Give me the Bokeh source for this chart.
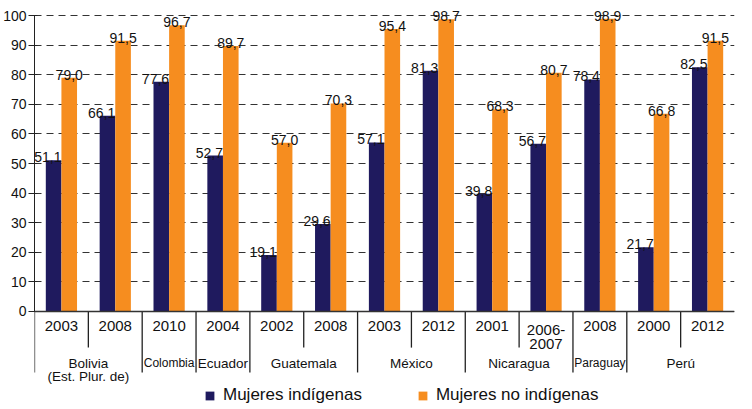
from bokeh.plotting import figure
from bokeh.models import ColumnDataSource, Range1d, FixedTicker, Span, Legend, LegendItem
from bokeh.core.properties import value
from bokeh.embed import file_html
from bokeh.resources import INLINE

# ---- data ----
groups = ["Bolivia\n(Est. Plur. de)", "Bolivia\n(Est. Plur. de)", "Colombia", "Ecuador",
          "Guatemala", "Guatemala", "México", "México", "Nicaragua", "Nicaragua",
          "Paraguay", "Perú", "Perú"]
years = ["2003", "2008", "2010", "2004", "2002", "2008", "2003", "2012", "2001",
         "2006-\n2007", "2008", "2000", "2012"]
indigenas = [51.1, 66.1, 77.6, 52.7, 19.1, 29.6, 57.1, 81.3, 39.8, 56.7, 78.4, 21.7, 82.5]
no_indigenas = [79.0, 91.5, 96.7, 89.7, 57.0, 70.3, 95.4, 98.7, 68.3, 80.7, 98.9, 66.8, 91.5]
y_ticks = list(range(0, 101, 10))
series_names = ["Mujeres indígenas", "Mujeres no indígenas"]

# ---- styles ----
NAVY = "#1F1A5E"
ORANGE = "#F68D1F"
FONT = "Liberation Sans"
narrow_groups = {"Colombia": "12px", "Paraguay": "12px"}
BAR_W = 0.29

n = len(years)
centers = [i + 0.5 for i in range(n)]

def fmt(v):
    return f"{v:.1f}".replace(".", ",")

src = ColumnDataSource(dict(
    xc=centers,
    x1=[c - BAR_W / 2 for c in centers],
    x2=[c + BAR_W / 2 for c in centers],
    ind=indigenas, noind=no_indigenas,
    ind_lbl=[fmt(v) for v in indigenas],
    noind_lbl=[fmt(v) for v in no_indigenas],
    year=years,
))

p = figure(width=736, height=405, output_backend="svg", toolbar_location=None,
           x_range=Range1d(0, n), y_range=Range1d(-31.76, 105.07),
           x_axis_location=None, min_border_left=29, min_border_right=2,
           min_border_top=0, min_border_bottom=0)
p.outline_line_color = None
p.xgrid.visible = False

yax = p.yaxis[0]
yax.ticker = FixedTicker(ticks=y_ticks)
yax.bounds = (0, 100)
yax.minor_tick_line_color = None
yax.major_tick_out = 6
yax.major_tick_in = 3
yax.major_label_standoff = 2
yax.major_label_text_font = FONT
yax.major_label_text_font_size = "14px"
yax.major_label_text_color = "#111111"
yax.axis_line_color = "#222222"
yax.major_tick_line_color = "#222222"

p.ygrid.ticker = FixedTicker(ticks=y_ticks)
p.ygrid.grid_line_color = "#333333"
p.ygrid.grid_line_dash = "7 5"
p.ygrid.grid_line_width = 1

r1 = p.vbar(x="x1", top="ind", bottom=0, width=BAR_W, source=src,
            fill_color=NAVY, line_color=None)
r2 = p.vbar(x="x2", top="noind", bottom=0, width=BAR_W, source=src,
            fill_color=ORANGE, line_color=None)

p.add_layout(Span(location=0, dimension="width", line_color="#333333", line_width=1.5))

# value labels
p.text(x="xc", y="ind", text="ind_lbl", source=src, text_align="right",
       text_baseline="alphabetic", y_offset=-3, text_font=value(FONT),
       text_font_size="14px", text_color="#111111")
p.text(x="x2", y="noind", text="noind_lbl", source=src, text_align="center",
       text_baseline="alphabetic", y_offset=-3, text_font=value(FONT),
       text_font_size="14px", text_color="#111111")

# year labels
p.text(x="xc", y=-3.1, text="year", source=src, text_align="center",
       text_baseline="top", text_font=value(FONT), text_font_size="15px",
       text_color="#111111", text_line_height=0.85)

# separators
sep_x, sep_y = [], []
for i in range(n):
    long_tick = (i == 0) or (groups[i] != groups[i - 1])
    sep_x.append(i)
    sep_y.append(-20.6 if long_tick else -12.2)
p.segment(x0=sep_x, y0=[0] * n, x1=sep_x, y1=sep_y, line_color="#222222", line_width=1.3)

# group labels
g_names, g_x, g_size = [], [], []
i = 0
while i < n:
    j = i
    while j + 1 < n and groups[j + 1] == groups[i]:
        j += 1
    g_names.append(groups[i])
    g_x.append((i + j + 1) / 2)
    g_size.append(narrow_groups.get(groups[i], "13.5px"))
    i = j + 1
gsrc = ColumnDataSource(dict(x=g_x, name=g_names, size=g_size))
p.text(x="x", y=-15.0, text="name", source=gsrc, text_align="center",
       text_baseline="top", text_font=value(FONT), text_font_size="size",
       text_color="#111111", text_line_height=0.9)

legend = Legend(items=[LegendItem(label=series_names[0], renderers=[r1]),
                       LegendItem(label=series_names[1], renderers=[r2])],
                orientation="horizontal", location=(170, 0),
                label_text_font=FONT, label_text_font_size="17px",
                label_text_color="#111111",
                glyph_width=11, glyph_height=11, label_standoff=8, spacing=55,
                padding=0, margin=0, border_line_color=None,
                background_fill_alpha=0)
p.add_layout(legend)

open("out.html", "w").write(file_html(p, INLINE))
